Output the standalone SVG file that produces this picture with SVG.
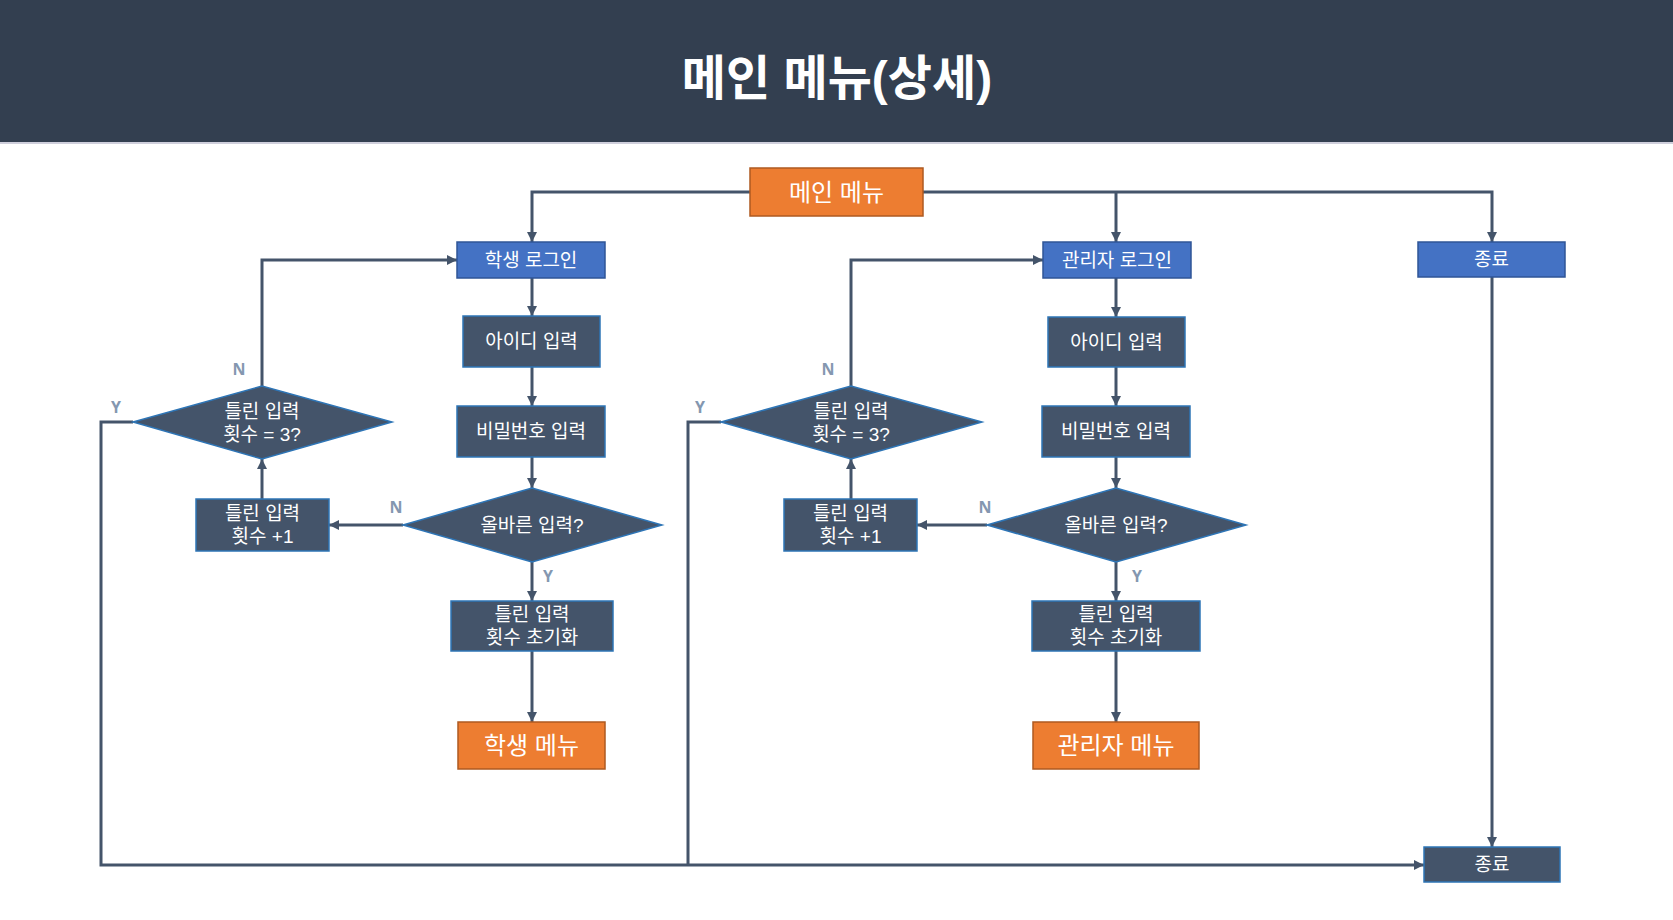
<svg xmlns="http://www.w3.org/2000/svg" width="1673" height="920" viewBox="0 0 1673 920">
<style>
.t{font-family:"Liberation Sans","Noto Sans CJK KR",sans-serif;fill:#ffffff;text-anchor:middle;dominant-baseline:central;font-size:19px}
.big{font-size:24px}
.title{font-size:48px;font-weight:bold}
.dark{fill:#44546A;stroke:#2E75B6;stroke-width:1.5}
.blue{fill:#4472C4;stroke:#2F5597;stroke-width:1.5}
.orange{fill:#ED7D31;stroke:#AE5A21;stroke-width:1.5}
.c{fill:none;stroke:#44546A;stroke-width:3}
.a{marker-end:url(#arr)}
.lbl{font-family:"Open Sans","Liberation Sans",sans-serif;font-weight:bold;font-size:16px;fill:#8497B0;text-anchor:middle;dominant-baseline:central}
</style>
<defs>
<marker id="arr" viewBox="0 0 10 10" refX="10" refY="5" markerWidth="10" markerHeight="10" markerUnits="userSpaceOnUse" orient="auto">
<path d="M0,0 L10,5 L0,10 z" fill="#44546A"/>
</marker>
</defs>
<rect x="0" y="0" width="1673" height="920" fill="#ffffff"/>
<g id="header">
<rect x="0" y="0" width="1673" height="142" fill="#333F50"/>
<rect x="0" y="142" width="1673" height="2" fill="#CFCFDC"/>
<text class="t title" x="837" y="78">메인 메뉴(상세)</text>
</g>
<g id="connectors">
<path class="c a" d="M750,192 H532 V242"/>
<path class="c a" d="M923,192 H1492 V242"/>
<path class="c a" d="M1116,192 V242"/>
<path class="c a" d="M532,278 V316"/>
<path class="c a" d="M532,367 V406"/>
<path class="c a" d="M532,457 V488"/>
<path class="c a" d="M532,562 V601"/>
<path class="c a" d="M532,651 V722"/>
<path class="c a" d="M403,525 H329"/>
<path class="c a" d="M262,499 V459"/>
<path class="c a" d="M262,386 V260 H457"/>
<path class="c a" d="M133,422 H101 V865 H1424"/>
<path class="c a" d="M1116,278 V317"/>
<path class="c a" d="M1116,367 V406"/>
<path class="c a" d="M1116,457 V488"/>
<path class="c a" d="M1116,562 V601"/>
<path class="c a" d="M1116,651 V722"/>
<path class="c a" d="M987,525 H917"/>
<path class="c a" d="M851,499 V459"/>
<path class="c a" d="M851,386 V260 H1043"/>
<path class="c" d="M721,422 H688 V865"/>
<path class="c a" d="M1492,277 V847"/>
<text class="lbl" x="548" y="576">Y</text>
<text class="lbl" x="396" y="507">N</text>
<text class="lbl" x="239" y="369">N</text>
<text class="lbl" x="116" y="407">Y</text>
<text class="lbl" x="1137" y="576">Y</text>
<text class="lbl" x="985" y="507">N</text>
<text class="lbl" x="828" y="369">N</text>
<text class="lbl" x="700" y="407">Y</text>
</g>
<g id="main-menu"><rect class="orange" x="750" y="168" width="173" height="48"/><text class="t big" x="836.5" y="192">메인 메뉴</text></g>
<g id="student-login"><rect class="blue" x="457" y="242" width="148" height="36"/><text class="t" x="531" y="260">학생 로그인</text></g>
<g id="student-id"><rect class="dark" x="463" y="316" width="137" height="51"/><text class="t" x="531.5" y="341.5">아이디 입력</text></g>
<g id="student-pw"><rect class="dark" x="457" y="406" width="148" height="51"/><text class="t" x="531" y="431.5">비밀번호 입력</text></g>
<g id="student-check"><polygon class="dark" points="403,525 532,488 662,525 532,562"/><text class="t" x="532" y="525">올바른 입력?</text></g>
<g id="student-inc"><rect class="dark" x="196" y="499" width="133" height="52"/><text class="t"><tspan x="262.5" y="513">틀린 입력</tspan><tspan x="262.5" y="536">횟수 +1</tspan></text></g>
<g id="student-limit"><polygon class="dark" points="133,422 262,386 392,422 262,459"/><text class="t"><tspan x="262" y="411">틀린 입력</tspan><tspan x="262" y="434">횟수 = 3?</tspan></text></g>
<g id="student-reset"><rect class="dark" x="451" y="601" width="162" height="50"/><text class="t"><tspan x="532" y="614">틀린 입력</tspan><tspan x="532" y="637">횟수 초기화</tspan></text></g>
<g id="student-menu"><rect class="orange" x="458" y="722" width="147" height="47"/><text class="t big" x="531.5" y="745.5">학생 메뉴</text></g>
<g id="admin-login"><rect class="blue" x="1043" y="242" width="148" height="36"/><text class="t" x="1117" y="260">관리자 로그인</text></g>
<g id="admin-id"><rect class="dark" x="1048" y="317" width="137" height="50"/><text class="t" x="1116.5" y="342">아이디 입력</text></g>
<g id="admin-pw"><rect class="dark" x="1042" y="406" width="148" height="51"/><text class="t" x="1116" y="431.5">비밀번호 입력</text></g>
<g id="admin-check"><polygon class="dark" points="987,525 1116,488 1246,525 1116,562"/><text class="t" x="1116" y="525">올바른 입력?</text></g>
<g id="admin-inc"><rect class="dark" x="784" y="499" width="133" height="52"/><text class="t"><tspan x="850.5" y="513">틀린 입력</tspan><tspan x="850.5" y="536">횟수 +1</tspan></text></g>
<g id="admin-limit"><polygon class="dark" points="721,422 851,386 982,422 851,459"/><text class="t"><tspan x="851" y="411">틀린 입력</tspan><tspan x="851" y="434">횟수 = 3?</tspan></text></g>
<g id="admin-reset"><rect class="dark" x="1032" y="601" width="168" height="50"/><text class="t"><tspan x="1116" y="614">틀린 입력</tspan><tspan x="1116" y="637">횟수 초기화</tspan></text></g>
<g id="admin-menu"><rect class="orange" x="1033" y="722" width="166" height="47"/><text class="t big" x="1116" y="745.5">관리자 메뉴</text></g>
<g id="exit-choice"><rect class="blue" x="1418" y="242" width="147" height="35"/><text class="t" x="1491.5" y="259.5">종료</text></g>
<g id="exit-end"><rect class="dark" x="1424" y="847" width="136" height="35"/><text class="t" x="1492" y="864.5">종료</text></g>
</svg>
